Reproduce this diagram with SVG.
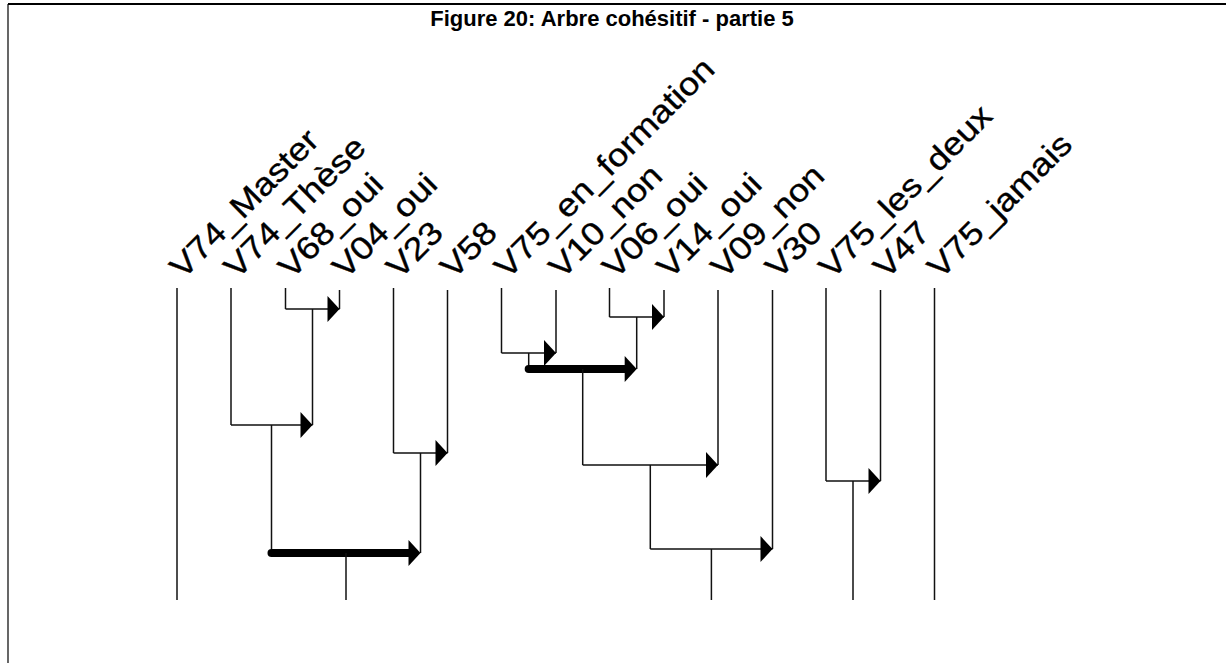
<svg xmlns="http://www.w3.org/2000/svg" xmlns:xlink="http://www.w3.org/1999/xlink" width="1226" height="663" viewBox="0 0 1226 663">
  <style>
    .frame { stroke: #000; fill: none; }
    .title { font-family: "Liberation Sans", Arial, sans-serif; font-size: 22px; font-weight: bold; fill: #000; }
    .lbl { font-family: "Liberation Sans", Arial, sans-serif; font-size: 32px; fill: #000; stroke: #000; stroke-width: 0.35; }
    .stem, .link { stroke: #111; stroke-width: 1.5; fill: none; }
    .thick { stroke: #000; stroke-width: 8; stroke-linecap: round; fill: none; }
    .head { fill: #000; }
  </style>
  <defs>
    <!-- right-pointing arrowhead, tip at the origin -->
    <path id="head" class="head" d="M-12,-13 L0,0 L-12,13 Z"/>
  </defs>

  <rect width="1226" height="663" fill="#fff"/>
  <!-- page frame -->
  <line class="frame" x1="8" y1="4" x2="1226" y2="4" stroke-width="2"/>
  <line class="frame" x1="8" y1="4" x2="8" y2="663" stroke-width="1.2"/>

  <text class="title" x="612" y="26" text-anchor="middle">Figure 20: Arbre cohésitif - partie 5</text>

  <!-- leaves: label (slanted, widened) + stem -->
  <g id="n-V74_Master"><text class="lbl" transform="translate(183,280) rotate(-45) scale(1.13,1)">V74_Master</text><line class="stem" x1="177" y1="288" x2="177" y2="600"/></g>
  <g id="n-V74_These"><text class="lbl" transform="translate(237,280) rotate(-45) scale(1.13,1)">V74_Thèse</text><line class="stem" x1="231" y1="288" x2="231" y2="425"/></g>
  <g id="n-V68_oui"><text class="lbl" transform="translate(291.5,280) rotate(-45) scale(1.13,1)">V68_oui</text><line class="stem" x1="285.5" y1="288" x2="285.5" y2="309"/></g>
  <g id="n-V04_oui"><text class="lbl" transform="translate(345.5,280) rotate(-45) scale(1.13,1)">V04_oui</text><line class="stem" x1="339.5" y1="290" x2="339.5" y2="309"/></g>
  <g id="n-V23"><text class="lbl" transform="translate(399.5,280) rotate(-45) scale(1.13,1)">V23</text><line class="stem" x1="393.5" y1="288" x2="393.5" y2="453"/></g>
  <g id="n-V58"><text class="lbl" transform="translate(453.5,280) rotate(-45) scale(1.13,1)">V58</text><line class="stem" x1="447.5" y1="290" x2="447.5" y2="453"/></g>
  <g id="n-V75_en_formation"><text class="lbl" transform="translate(507.5,280) rotate(-45) scale(1.13,1)">V75_en_formation</text><line class="stem" x1="501.5" y1="288" x2="501.5" y2="353"/></g>
  <g id="n-V10_non"><text class="lbl" transform="translate(562,280) rotate(-45) scale(1.13,1)">V10_non</text><line class="stem" x1="556" y1="290" x2="556" y2="353"/></g>
  <g id="n-V06_oui"><text class="lbl" transform="translate(615.5,280) rotate(-45) scale(1.13,1)">V06_oui</text><line class="stem" x1="609.5" y1="288" x2="609.5" y2="317"/></g>
  <g id="n-V14_oui"><text class="lbl" transform="translate(670,280) rotate(-45) scale(1.13,1)">V14_oui</text><line class="stem" x1="664" y1="290" x2="664" y2="317"/></g>
  <g id="n-V09_non"><text class="lbl" transform="translate(724,280) rotate(-45) scale(1.13,1)">V09_non</text><line class="stem" x1="718" y1="290" x2="718" y2="465"/></g>
  <g id="n-V30"><text class="lbl" transform="translate(778.5,280) rotate(-45) scale(1.13,1)">V30</text><line class="stem" x1="772.5" y1="290" x2="772.5" y2="549"/></g>
  <g id="n-V75_les_deux"><text class="lbl" transform="translate(832,280) rotate(-45) scale(1.13,1)">V75_les_deux</text><line class="stem" x1="826" y1="288" x2="826" y2="481"/></g>
  <g id="n-V47"><text class="lbl" transform="translate(886.5,280) rotate(-45) scale(1.13,1)">V47</text><line class="stem" x1="880.5" y1="290" x2="880.5" y2="481"/></g>
  <g id="n-V75_jamais"><text class="lbl" transform="translate(940.5,280) rotate(-45) scale(1.13,1)">V75_jamais</text><line class="stem" x1="934.5" y1="288" x2="934.5" y2="600"/></g>

  <!-- implication links between classes -->
  <g id="connectors">
    <!-- V68_oui -> V04_oui -->
    <path class="link" d="M285.5,309 H339.5 M312.5,309 V425"/>
    <use xlink:href="#head" x="339.5" y="309"/>
    <!-- V74_Thèse -> (V68_oui,V04_oui) -->
    <path class="link" d="M231,425 H312.5 M271.5,425 V553"/>
    <use xlink:href="#head" x="312.5" y="425"/>
    <!-- V23 -> V58 -->
    <path class="link" d="M393.5,453 H447.5 M420.5,453 V553"/>
    <use xlink:href="#head" x="447.5" y="453"/>
    <!-- significant link -->
    <path class="thick" d="M271.5,553 H412"/>
    <use xlink:href="#head" x="420.5" y="553"/>
    <path class="link" d="M346,553 V600"/>

    <!-- V75_en_formation -> V10_non -->
    <path class="link" d="M501.5,353 H556 M528.7,353 V369"/>
    <use xlink:href="#head" x="556" y="353"/>
    <!-- V06_oui -> V14_oui -->
    <path class="link" d="M609.5,317 H664 M636.7,317 V369"/>
    <use xlink:href="#head" x="664" y="317"/>
    <!-- significant link -->
    <path class="thick" d="M528.7,369 H628"/>
    <use xlink:href="#head" x="636.7" y="369"/>
    <path class="link" d="M582.7,369 V465"/>
    <!-- -> V09_non -->
    <path class="link" d="M582.7,465 H718 M650.3,465 V549"/>
    <use xlink:href="#head" x="718" y="465"/>
    <!-- -> V30 -->
    <path class="link" d="M650.3,549 H772.5 M711.4,549 V600"/>
    <use xlink:href="#head" x="772.5" y="549"/>

    <!-- V75_les_deux -> V47 -->
    <path class="link" d="M826,481 H880.5 M853,481 V600"/>
    <use xlink:href="#head" x="880.5" y="481"/>
  </g>
</svg>
